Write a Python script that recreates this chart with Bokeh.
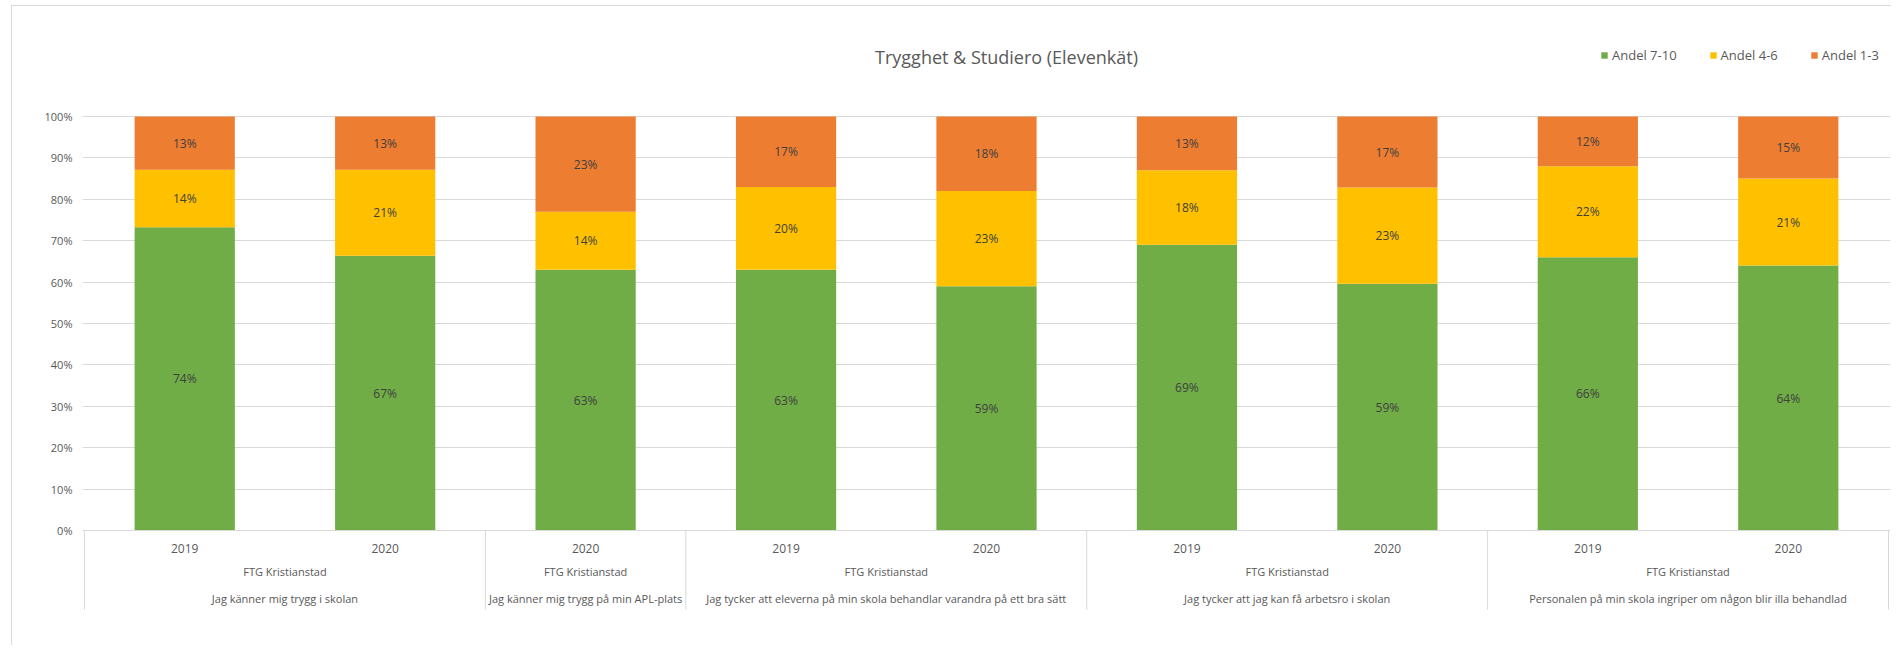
import numpy as np
from bokeh.plotting import figure
from bokeh.models import ColumnDataSource, Range1d, FixedTicker, NumeralTickFormatter
from bokeh.core.properties import value
from bokeh.embed import file_html
from bokeh.resources import INLINE

# ---------------- data ----------------
title_text = "Trygghet & Studiero (Elevenkät)"
school = "FTG Kristianstad"
questions = [
    "Jag känner mig trygg i skolan",
    "Jag känner mig trygg på min APL-plats",
    "Jag tycker att eleverna på min skola behandlar varandra på ett bra sätt",
    "Jag tycker att jag kan få arbetsro i skolan",
    "Personalen på min skola ingriper om någon blir illa behandlad",
]
bar_question = [0, 0, 1, 2, 2, 3, 3, 4, 4]
bar_year = ["2019", "2020", "2020", "2019", "2020", "2019", "2020", "2019", "2020"]
andel_7_10 = [74, 67, 63, 63, 59, 69, 59, 66, 64]
andel_4_6 = [14, 21, 14, 20, 23, 18, 23, 22, 21]
andel_1_3 = [13, 13, 23, 17, 18, 13, 17, 12, 15]
series_names = ["Andel 7-10", "Andel 4-6", "Andel 1-3"]
y_ticks = [0, 0.1, 0.2, 0.3, 0.4, 0.5, 0.6, 0.7, 0.8, 0.9, 1.0]

# ---------------- styles ----------------
colors = ["#70AD47", "#FFC000", "#ED7D31"]
FONT = "Open Sans"
GRID = "#d9d9d9"
TXT = "#595959"

# layout in page pixels
Y100, Y0 = 116.0, 530.0
def py(page_y):
    return (Y0 - page_y) / (Y0 - Y100)

MARGIN_L, MARGIN_T = 11, 5
LEFT, TOP = MARGIN_L + 1, MARGIN_T + 1
FRAME_L, FRAME_R = 82, 1890
H = 640
MB_R = 2
W = FRAME_R - LEFT + MB_R
n = len(bar_year)
x = np.arange(n, dtype=float)

vals = np.array([andel_7_10, andel_4_6, andel_1_3], dtype=float)
norm = vals / vals.sum(axis=0)
tops = np.cumsum(norm, axis=0)
mids = tops - norm / 2

src = ColumnDataSource(dict(x=x, g=norm[0], y=norm[1], o=norm[2]))

p = figure(width=W, height=H, output_backend="svg", toolbar_location=None,
           x_range=Range1d(-0.51, n - 0.49),
           y_range=Range1d(py(TOP + H), py(TOP)),
           x_axis_location=None,
           min_border_left=FRAME_L - LEFT, min_border_right=MB_R, min_border_top=0, min_border_bottom=0,
           styles={"border-left": "1px solid #d9d9d9", "border-top": "1px solid #d9d9d9",
                   "margin-left": f"{MARGIN_L}px", "margin-top": f"{MARGIN_T}px"})
p.outline_line_color = None
p.xgrid.visible = False
p.ygrid.ticker = FixedTicker(ticks=y_ticks)
p.ygrid.grid_line_color = GRID
p.yaxis.ticker = FixedTicker(ticks=y_ticks)
p.yaxis.formatter = NumeralTickFormatter(format="0%")
p.yaxis.axis_line_color = None
p.yaxis.major_tick_line_color = None
p.yaxis.minor_tick_line_color = None
p.yaxis.major_tick_out = 0
p.yaxis.major_tick_in = 0
p.yaxis.minor_tick_out = 0
p.yaxis.major_label_standoff = 10
p.yaxis.major_label_text_font = FONT
p.yaxis.major_label_text_font_size = "11px"
p.yaxis.major_label_text_color = TXT

p.vbar_stack(["g", "y", "o"], x="x", width=0.5, color=colors, line_color=None,
             source=src, legend_label=series_names)

# data labels
lab_x, lab_y, lab_t = [], [], []
for s in range(3):
    for i in range(n):
        lab_x.append(x[i]); lab_y.append(mids[s, i]); lab_t.append(f"{int(vals[s, i])}%")
p.text(x=lab_x, y=lab_y, text=lab_t, text_align="center", text_baseline="middle",
       text_font=value(FONT), text_font_size="12px", text_color="#404040")

# category axis (multi-level)
p.segment(x0=[-0.5], x1=[n - 0.5], y0=[0], y1=[0], line_color=GRID, line_width=1)
p.text(x=x, y=[py(548)] * n, text=bar_year, text_align="center", text_baseline="middle",
       text_font=value(FONT), text_font_size="12px", text_color=TXT)
centers = [float(np.mean([i for i in range(n) if bar_question[i] == q])) for q in range(len(questions))]
p.text(x=centers, y=[py(571)] * len(centers), text=[school] * len(centers), text_align="center",
       text_baseline="middle", text_font=value(FONT), text_font_size="11px", text_color=TXT)
p.text(x=centers, y=[py(598)] * len(centers), text=questions, text_align="center",
       text_baseline="middle", text_font=value(FONT), text_font_size="11px", text_color=TXT)
bnds = [-0.5] + [i + 0.5 for i in range(n - 1) if bar_question[i] != bar_question[i + 1]] + [n - 0.5]
p.segment(x0=bnds, x1=bnds, y0=[0] * len(bnds), y1=[py(609)] * len(bnds), line_color=GRID, line_width=1)

# title
p.text(x=[4.1], y=[py(56)], text=[title_text], text_align="center", text_baseline="middle",
       text_font=value(FONT), text_font_size="18px", text_color=TXT)

# legend
lg = p.legend[0]
lg.orientation = "horizontal"
lg.location = (1600 - FRAME_L, H - (56 - TOP) - 8)
lg.border_line_color = None
lg.background_fill_alpha = 0
lg.padding = 0
lg.margin = 0
lg.spacing = 32
lg.glyph_width = 8
lg.glyph_height = 8
lg.label_height = 16
lg.label_standoff = 4
lg.label_text_font = FONT
lg.label_text_font_size = "13px"
lg.label_text_color = TXT
lg.label_text_baseline = "middle"

open("out.html", "w").write(file_html(p, INLINE))
